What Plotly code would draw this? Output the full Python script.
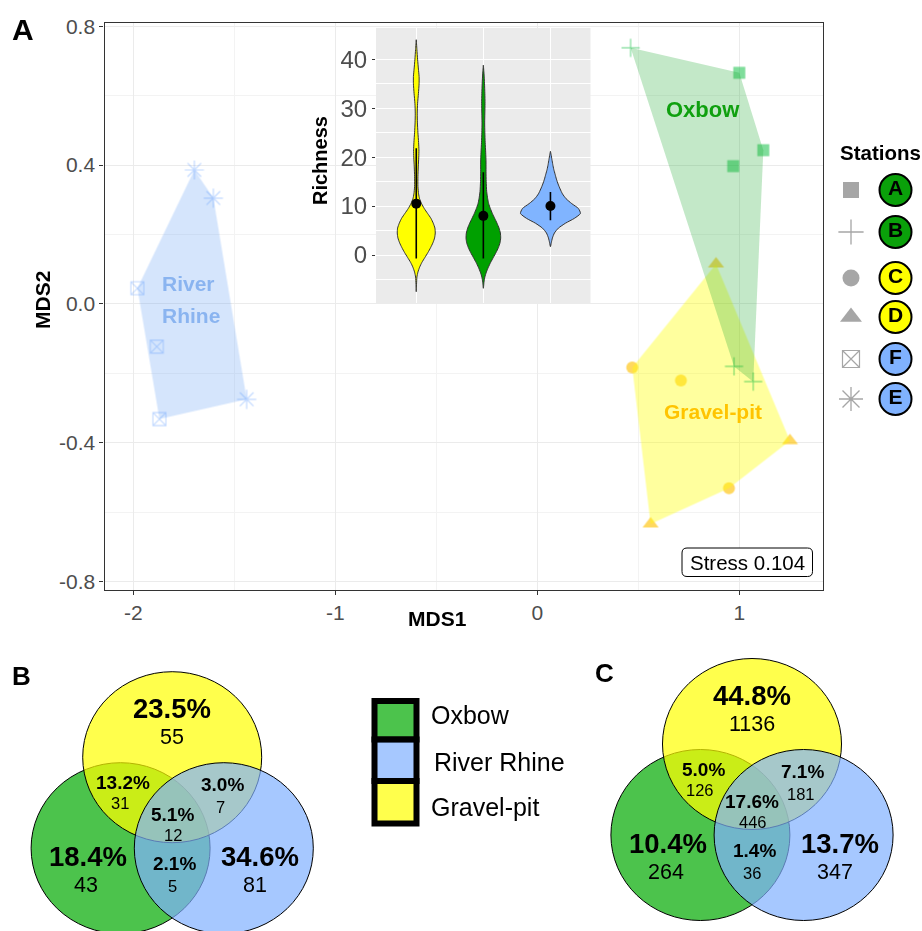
import plotly.graph_objects as go

W, H = 922, 931
REG = "Liberation Sans, Arial, sans-serif"

# ---------------- Panel A: NMDS scores ----------------
oxbow_station = ["B", "A", "A", "A", "B", "B"]
oxbow_mds1 = [0.462, 1.000, 1.119, 0.970, 0.974, 1.069]
oxbow_mds2 = [0.738, 0.666, 0.443, 0.397, -0.180, -0.224]

gravel_station = ["D", "C", "C", "D", "C", "D"]
gravel_mds1 = [0.885, 0.470, 0.711, 1.251, 0.949, 0.561]
gravel_mds2 = [0.115, -0.183, -0.221, -0.394, -0.531, -0.634]

rhine_station = ["E", "E", "F", "F", "F", "E"]
rhine_mds1 = [-1.698, -1.604, -1.980, -1.884, -1.871, -1.439]
rhine_mds2 = [0.386, 0.305, 0.045, -0.123, -0.332, -0.275]

stress_value = 0.104
x_ticks = [-2, -1, 0, 1]
x_minor = [-1.5, -0.5, 0.5]
y_ticks = [-0.8, -0.4, 0.0, 0.4, 0.8]
y_minor = [-0.6, -0.2, 0.2, 0.6]

legend_stations = ["A", "B", "C", "D", "F", "E"]
station_habitat = {"A": "Oxbow", "B": "Oxbow", "C": "Gravel-pit",
                   "D": "Gravel-pit", "E": "River Rhine", "F": "River Rhine"}

# ---------------- Inset: richness violins ----------------
inset_habitats = ["Gravel-pit", "Oxbow", "River Rhine"]
rich_mean = [10.5, 8.0, 10.0]
rich_low = [-0.7, -0.7, 7.1]
rich_high = [21.8, 16.9, 12.9]
rich_ticks = [0, 10, 20, 30, 40]
rich_minor = [-5, 5, 15, 25, 35]

gravel_dens_y = [-7.5, -6, -4.5, -3.5, -2.5, -1.5, -0.5, 0.5, 1.5, 2.5, 3.5, 4.5, 5.5, 6.5,
                 7.5, 8.5, 9.5, 10.5, 11.5, 12.5, 14, 16, 18, 20, 21.5, 23, 25, 27, 29, 31,
                 33, 35, 36.5, 38, 40, 42, 44]
gravel_dens_w = [0, 0.8, 2, 5, 10, 17, 26, 35, 43, 50, 55, 57, 56, 51,
                 44, 34, 24, 16, 10, 7, 5, 5, 6, 7.5, 8, 7, 5, 3.5, 3, 4,
                 6.5, 8.5, 8.5, 6.5, 4, 2, 0]
oxbow_dens_y = [-6.8, -5.5, -4.5, -3.5, -2.5, -1.5, -0.5, 0.5, 1.5, 2.5, 3.5, 4.5, 5.5, 6.5,
                7.5, 8.5, 9.5, 10.5, 11.5, 13, 15, 17, 19, 21, 23, 25, 27, 29, 31, 33, 35,
                37, 38.8]
oxbow_dens_w = [0, 2, 4.5, 9, 15, 22, 30, 38, 45, 50, 52, 51, 47, 41,
                34, 27, 21, 16, 13, 10, 8.5, 8, 8, 7, 5.5, 4.5, 4, 4.5, 5, 4.5, 3.5,
                2, 0]
rhine_dens_y = [1.7, 2.5, 3.5, 4.5, 5.5, 6.5, 7.5, 8.5, 9.5, 10.5, 11.5, 12.5, 13.5, 14.5,
                15.5, 16.5, 17.5, 18.5, 19.5, 20.5, 21.2]
rhine_dens_w = [0, 2.5, 6, 12, 24, 45, 72, 90, 84, 64, 47, 36, 29, 23,
                18, 14, 10, 7, 4.5, 2, 0]

# ---------------- Venn diagrams ----------------
venn_regions = ["Y", "G", "B", "YG", "YB", "GB", "YGB"]
venn_b_pct = [23.5, 18.4, 34.6, 13.2, 3.0, 2.1, 5.1]
venn_b_n = [55, 43, 81, 31, 7, 5, 12]
venn_c_pct = [44.8, 10.4, 13.7, 5.0, 7.1, 1.4, 17.6]
venn_c_n = [1136, 264, 347, 126, 181, 36, 446]
venn_legend = ["Oxbow", "River Rhine", "Gravel-pit"]

# ---------------- styles ----------------
PT_COLOR = {"Oxbow": "#00BA38", "Gravel-pit": "#FFC000", "River Rhine": "#619CFF"}
PT_OPAC = {"Oxbow": 0.72, "Gravel-pit": 0.9, "River Rhine": 0.55}
HULL_FILL = {"Oxbow": "rgba(34,170,51,0.27)", "Gravel-pit": "rgba(255,255,0,0.38)",
             "River Rhine": "rgba(100,160,245,0.27)"}
LABEL_COLOR = {"Oxbow": "#0FA00F", "Gravel-pit": "#FFC400", "River Rhine": "#8AB4F0"}
LETTER_FILL = {"Oxbow": "#0AA00A", "Gravel-pit": "#FFFF00", "River Rhine": "#80B2FF"}
VIOLIN_FILL = {"Gravel-pit": "#FFFF00", "Oxbow": "#00A000", "River Rhine": "#80B4FF"}
VENN_FILL = {"Oxbow": "rgba(0,170,0,0.7)", "River Rhine": "rgba(128,176,255,0.7)",
             "Gravel-pit": "rgba(255,255,0,0.7)"}
SYM = {"A": "square", "B": "cross-thin-open", "C": "circle", "D": "triangle-up",
       "E": "asterisk-open", "F": "square-x-open"}
SIZE = {"A": 12, "B": 13, "C": 12, "D": 14, "E": 16, "F": 13}
LEG_SIZE = {"A": 16, "B": 18, "C": 17, "D": 19, "E": 20, "F": 17}
LW = {"A": 0, "B": 1.2, "C": 0, "D": 0, "E": 1.2, "F": 1.1}
VIOLIN_SCALE = 1 / 201.3


def convex_hull(xs, ys):
    pts = sorted(set(zip(xs, ys)))

    def cross(o, a, b):
        return (a[0] - o[0]) * (b[1] - o[1]) - (a[1] - o[1]) * (b[0] - o[0])

    lower, upper = [], []
    for p in pts:
        while len(lower) >= 2 and cross(lower[-2], lower[-1], p) <= 0:
            lower.pop()
        lower.append(p)
    for p in reversed(pts):
        while len(upper) >= 2 and cross(upper[-2], upper[-1], p) <= 0:
            upper.pop()
        upper.append(p)
    hull = lower[:-1] + upper[:-1]
    hull.append(hull[0])
    return [p[0] for p in hull], [p[1] for p in hull]


fig = go.Figure()

groups = [("River Rhine", rhine_station, rhine_mds1, rhine_mds2),
          ("Gravel-pit", gravel_station, gravel_mds1, gravel_mds2),
          ("Oxbow", oxbow_station, oxbow_mds1, oxbow_mds2)]
for name, st, mx, my in groups:
    fig.add_trace(go.Scatter(
        x=mx, y=my, mode="markers", xaxis="x", yaxis="y", showlegend=False,
        opacity=PT_OPAC[name],
        marker=dict(symbol=[SYM[s] for s in st], size=[SIZE[s] for s in st],
                    color=PT_COLOR[name],
                    line=dict(width=[LW[s] for s in st], color=PT_COLOR[name]))))
    hx, hy = convex_hull(mx, my)
    fig.add_trace(go.Scatter(x=hx, y=hy, mode="lines", fill="toself",
                             fillcolor=HULL_FILL[name], line=dict(width=0),
                             xaxis="x", yaxis="y", showlegend=False, hoverinfo="skip"))

# ---------------- inset violins ----------------
profiles = {"Gravel-pit": (gravel_dens_y, gravel_dens_w),
            "Oxbow": (oxbow_dens_y, oxbow_dens_w),
            "River Rhine": (rhine_dens_y, rhine_dens_w)}
for i, hab in enumerate(inset_habitats):
    pos = i + 1
    yy, ww = profiles[hab]
    xs = [pos + w * VIOLIN_SCALE for w in ww] + [pos - w * VIOLIN_SCALE for w in ww[::-1]]
    ys = list(yy) + list(yy[::-1])
    fig.add_trace(go.Scatter(x=xs, y=ys, mode="lines", fill="toself",
                             fillcolor=VIOLIN_FILL[hab],
                             line=dict(color="#333333", width=1, shape="spline", smoothing=0.6),
                             xaxis="x2", yaxis="y2", showlegend=False))
for i, hab in enumerate(inset_habitats):
    pos = i + 1
    fig.add_trace(go.Scatter(x=[pos, pos], y=[rich_low[i], rich_high[i]], mode="lines",
                             line=dict(color="black", width=1.6),
                             xaxis="x2", yaxis="y2", showlegend=False))
fig.add_trace(go.Scatter(x=[1, 2, 3], y=rich_mean, mode="markers",
                         marker=dict(color="black", size=10),
                         xaxis="x2", yaxis="y2", showlegend=False))

# ---------------- station legend (overlay pixel axes) ----------------
leg_y = [190, 232, 278, 317, 359, 399]
fig.add_trace(go.Scatter(
    x=[851] * len(legend_stations), y=leg_y, mode="markers", xaxis="x3", yaxis="y3",
    showlegend=False,
    marker=dict(symbol=[SYM[s] for s in legend_stations],
                size=[LEG_SIZE[s] for s in legend_stations], color="#808080",
                line=dict(width=[LW[s] * 1.1 for s in legend_stations], color="#808080"))))
fig.add_trace(go.Scatter(
    x=[895.5] * len(legend_stations), y=leg_y, mode="markers+text", xaxis="x3", yaxis="y3",
    showlegend=False,
    text=["<b>%s</b>" % s for s in legend_stations], textposition="middle center",
    textfont=dict(family=REG, size=21, color="black"),
    marker=dict(symbol="circle", size=32,
                color=[LETTER_FILL[station_habitat[s]] for s in legend_stations],
                line=dict(color="black", width=2))))

shapes = []
annotations = []

INSET_XR = [0.4, 3.6]
INSET_YR = [-9.87, 46.46]
shapes.append(dict(type="rect", xref="x2", yref="y2", x0=INSET_XR[0], x1=INSET_XR[1],
                   y0=INSET_YR[0], y1=INSET_YR[1], fillcolor="#EBEBEB",
                   line=dict(width=0), layer="below"))


def pix(x, y, text, size, color="black", bold=False, angle=0, xanchor="center", **kw):
    annotations.append(dict(
        x=x, y=y, xref="x3", yref="y3", showarrow=False,
        text=("<b>%s</b>" % text) if bold else text, textangle=angle,
        font=dict(family=REG, size=size, color=color),
        xanchor=xanchor, yanchor="middle", **kw))


def rounded_box(x0, y0, x1, y1, r):
    return ("M%g,%g L%g,%g Q%g,%g %g,%g L%g,%g Q%g,%g %g,%g L%g,%g Q%g,%g %g,%g "
            "L%g,%g Q%g,%g %g,%g Z") % (
        x0 + r, y0, x1 - r, y0, x1, y0, x1, y0 + r, x1, y1 - r, x1, y1, x1 - r, y1,
        x0 + r, y1, x0, y1, x0, y1 - r, x0, y0 + r, x0, y0, x0 + r, y0)


# panel letters
pix(23, 29, "A", 30, bold=True)
pix(21, 676, "B", 26, bold=True)
pix(604, 673, "C", 26, bold=True)

# axis titles
pix(437.5, 618, "MDS1", 21, bold=True)
pix(42, 300, "MDS2", 21, bold=True, angle=-90)
pix(320, 161, "Richness", 20, bold=True, angle=-90)
pix(880, 152, "Stations", 20.5, bold=True)

# stress box (rounded)
shapes.append(dict(type="path", xref="x3", yref="y3",
                   path=rounded_box(682, 548, 812.5, 576.5, 5),
                   fillcolor="white", line=dict(color="black", width=1), layer="above"))
pix(747, 562.5, "Stress %.3f" % stress_value, 20.5)

# group labels in data coordinates
for txt, xv, yv, hab, anc, fs in [("Oxbow", 0.820, 0.559, "Oxbow", "center", 22),
                                  ("Gravel-pit", 0.871, -0.311, "Gravel-pit", "center", 21),
                                  ("River", -1.866, 0.060, "River Rhine", "left", 21),
                                  ("Rhine", -1.866, -0.032, "River Rhine", "left", 21)]:
    annotations.append(dict(x=xv, y=yv, xref="x", yref="y", showarrow=False,
                            text="<b>%s</b>" % txt, xanchor=anc, yanchor="middle",
                            font=dict(family=REG, size=fs, color=LABEL_COLOR[hab])))

# ---------------- Venn diagrams ----------------
RX, RY, DX, DY = 89.5, 85.5, 51.6, 91
PCT_OFF = {"Y": (0, -49), "G": (-84, 99), "B": (88, 99.5), "YG": (-49, 25),
           "YB": (50, 27.5), "GB": (2.5, 106), "YGB": (0, 57)}
N_OFF = {"Y": (0, -20), "G": (-86, 128), "B": (83, 128), "YG": (-52.5, 46),
         "YB": (48.5, 49.5), "GB": (0, 128.5), "YGB": (0.5, 77.5)}


def venn(cx, cy, pcts, ns):
    centers = {"Oxbow": (cx - DX, cy + DY), "Gravel-pit": (cx, cy),
               "River Rhine": (cx + DX, cy + DY)}
    for name in ["Oxbow", "Gravel-pit", "River Rhine"]:
        ox, oy = centers[name]
        shapes.append(dict(type="circle", xref="x3", yref="y3",
                           x0=ox - RX, x1=ox + RX, y0=oy - RY, y1=oy + RY,
                           fillcolor=VENN_FILL[name], line=dict(color="black", width=1),
                           layer="above"))
    for reg, p, n in zip(venn_regions, pcts, ns):
        big = len(reg) == 1
        px, py = PCT_OFF[reg]
        nx, ny = N_OFF[reg]
        pix(cx + px, cy + py, "%.1f%%" % p, 27.5 if big else 19, bold=True)
        pix(cx + nx, cy + ny, str(n), 21.5 if big else 16.5)


venn(172.2, 757.2, venn_b_pct, venn_b_n)
venn(752.0, 744.0, venn_c_pct, venn_c_n)

# venn colour legend
box_y = [(701, 739.5), (739.5, 781), (781, 823.5)]
text_y = [715, 761.5, 806.5]
text_x = [428.5, 431.5, 428.5]
for name, (y0, y1), ty, tx in zip(venn_legend, box_y, text_y, text_x):
    shapes.append(dict(type="rect", xref="x3", yref="y3", x0=374.5, x1=416.5, y0=y0, y1=y1,
                       fillcolor=VENN_FILL[name], line=dict(color="black", width=6),
                       layer="above"))
    pix(tx, ty, name, 25, xanchor="left")

AX_LINE = "#333333"
fig.update_layout(
    width=W, height=H, autosize=False,
    margin=dict(l=0, r=0, t=0, b=0, pad=0, autoexpand=False),
    paper_bgcolor="white", plot_bgcolor="rgba(0,0,0,0)",
    font=dict(family=REG, color="black"),
    showlegend=False,
    xaxis=dict(domain=[104.5 / W, 822.5 / W], range=[-2.143, 1.412], anchor="y",
               automargin=False,
               tickvals=x_ticks, ticktext=[str(v) for v in x_ticks],
               showgrid=True, gridcolor="#EBEBEB", gridwidth=1.1, zeroline=False,
               minor=dict(tickvals=x_minor, showgrid=True, gridcolor="#F3F3F3", gridwidth=0.7),
               showline=True, linecolor=AX_LINE, linewidth=1.3, mirror=True,
               ticks="outside", ticklen=4, tickcolor=AX_LINE, tickwidth=1.1,
               tickfont=dict(family=REG, size=21, color="#4D4D4D")),
    yaxis=dict(domain=[(H - 589.5) / H, (H - 22.5) / H], range=[-0.823, 0.811], anchor="x",
               automargin=False,
               tickvals=y_ticks, ticktext=["%.1f" % v for v in y_ticks],
               showgrid=True, gridcolor="#EBEBEB", gridwidth=1.1, zeroline=False,
               minor=dict(tickvals=y_minor, showgrid=True, gridcolor="#F3F3F3", gridwidth=0.7),
               showline=True, linecolor=AX_LINE, linewidth=1.3, mirror=True,
               ticks="outside", ticklen=4, tickcolor=AX_LINE, tickwidth=1.1,
               tickfont=dict(family=REG, size=21, color="#4D4D4D")),
    xaxis2=dict(domain=[376 / W, 590.7 / W], range=INSET_XR, anchor="y2", automargin=False,
                tickvals=[1, 2, 3], showticklabels=False, ticks="",
                showgrid=True, gridcolor="white", gridwidth=1.2, zeroline=False,
                showline=False),
    yaxis2=dict(domain=[(H - 303.3) / H, (H - 27.7) / H], range=INSET_YR, anchor="x2",
                automargin=False,
                tickvals=rich_ticks, ticktext=[str(v) for v in rich_ticks],
                showgrid=True, gridcolor="white", gridwidth=1.2, zeroline=False,
                minor=dict(tickvals=rich_minor, showgrid=True, gridcolor="white", gridwidth=0.6),
                showline=False, ticks="outside", ticklen=3, tickcolor=AX_LINE,
                tickfont=dict(family=REG, size=24, color="#4D4D4D")),
    xaxis3=dict(domain=[0, 1], range=[0, W], anchor="y3", visible=False, fixedrange=True,
                automargin=False),
    yaxis3=dict(domain=[0, 1], range=[H, 0], anchor="x3", visible=False, fixedrange=True,
                automargin=False),
    shapes=shapes, annotations=annotations,
)

fig.write_html("out.html", config={"displayModeBar": False},
               post_script="document.body.style.margin='0px';document.body.style.overflow='hidden';")
